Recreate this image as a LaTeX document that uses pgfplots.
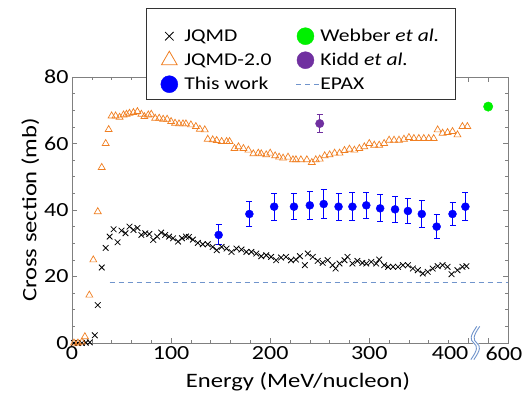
\documentclass[border=0pt]{standalone}
\usepackage{pgfplots}
\pgfplotsset{compat=1.18}
\usepackage{fontspec}
\setmainfont{Carlito}[FakeStretch=1.2]

\definecolor{jorange}{HTML}{F07F22}
\definecolor{epax}{HTML}{7094CC}
\definecolor{kidd}{HTML}{7030A0}
\definecolor{webber}{HTML}{00F000}
\definecolor{frame}{HTML}{808080}
\newcommand\lf{\fontsize{18}{21}\selectfont}

\begin{document}
\begin{tikzpicture}
\begin{axis}[
  scale only axis, width=436pt, height=266pt,
  xmin=0, xmax=440, ymin=0, ymax=80,
  clip=false,
  axis line style={frame, line width=0.8pt},
  tick style={frame, line width=0.6pt},
  tick align=inside,
  major tick length=5pt, minor tick length=3pt,
  xtick={0,100,200,300,400,420},
  xticklabels={0,100,200,300,{\llap{400}},{\hspace{-5pt}\rlap{600}}},
  minor xtick={20,40,60,80,120,140,160,180,220,240,260,280,320,340,360,380},
  ytick={0,20,40,60,80},
  minor y tick num=3,
  /pgf/number format/assume math mode=true,
  tick label style={font=\fontsize{20}{24}\selectfont, black},
  label style={font=\fontsize{20.5}{24}\selectfont},
  xlabel={Energy (MeV/nucleon)},
  ylabel={Cross section (mb)},
  xlabel style={yshift=-5pt, xshift=8pt},
  ylabel style={yshift=-2pt},
  legend columns=2,
  legend style={at={(rel axis cs:0.17,1.2143)}, anchor=north west,
    draw=none, fill=none,
    font=\lf,
    inner xsep=10pt, inner ysep=7pt,
    row sep=6pt,
    /tikz/every even column/.append style={column sep=19pt}},
  legend cell align=left,
  legend image code/.code={\path[draw=none, fill=none] (0pt,-1pt) rectangle (26pt,1pt); \draw[#1] plot coordinates {(13pt,0pt)};},
]

% legend frame (covers the top axis line, as in the original)
\draw[black!80, line width=0.8pt, fill=white] (rel axis cs:0.1697,1.2594) rectangle (rel axis cs:0.8784,0.9173);

% JQMD
\addplot[only marks, mark=x, mark size=4pt, black, line width=0.8pt, forget plot] coordinates {
(2,0) (6,0) (10,0) (14,0.1) (18,0.2) (23,2.3) (26,11.4) (30,22.7) (34,28.6) (38,32.0)
(42,34.2) (46,30.3) (50,33.8) (54,33.0) (58,35.0) (62,34.0) (66,34.6) (70,32.5) (74,33.0)
(78,32.8) (82,31.0) (86,32.0) (90,33.2) (94,32.5) (98,32.0) (102,31.5) (107,30.5)
(111,31.5) (115,32.0) (118,31.9) (122,31.1) (127,30.1) (132,29.7) (137,29.7) (142,28.9)
(146,27.9) (151,28.9) (156,28.4) (161,27.4) (166,28.4) (171,28.1) (176,27.4) (181,27.4)
(186,26.9) (191,26.1) (196,26.4) (201,25.9) (206,24.9) (211,25.7) (216,25.9) (221,24.9)
(226,25.1) (230,26.1) (235,23.4) (238,26.9) (243,25.9) (248,24.7) (253,24.1) (258,24.9)
(263,23.4) (266,22.4) (270,23.9) (275,24.9) (278,25.9) (283,23.9) (288,24.7) (293,24.1)
(297,23.9) (302,24.4) (307,23.9) (310,25.1) (315,23.4) (319,22.9) (324,22.9) (329,22.9)
(334,23.4) (339,23.4) (344,22.4) (349,21.9) (354,20.9) (359,21.4) (364,22.4) (369,23.1)
(374,23.4) (379,22.9) (383,20.7) (389,21.9) (394,22.9) (398,23.1)
};

% JQMD-2.0
\addplot[only marks, mark=triangle, mark size=4pt, jorange, line width=0.7pt, forget plot] coordinates {
(2,0) (6,0) (10,0.3) (13,1.9) (17.5,14.4) (21.5,25) (26,39.5) (30,52.8) (34,60) (37,64.2)
(40,68.3) (44,68.3) (48,67.9) (52,68.6) (55,68.8) (58,69.1) (62,69.3) (66,69.6) (70,68.8)
(73,68.1) (77,68.6) (80,68.8) (84,67.6) (88,67.6) (92,67.3) (96,67.3) (100,66.6) (104,66.1)
(108,65.9) (112,65.9) (115,65.9) (120,65.6) (125,65.1) (129,64.3) (134,64.1) (137,61.3)
(142,61.1) (146,60.9) (151,60.6) (156,60.6) (159,60.6) (164,58.5) (168,59.0) (173,58.5)
(178,58.0) (183,56.9) (188,57.1) (191,56.9) (196,56.6) (200,57.1) (205,56.3) (209,55.9)
(213,55.6) (218,55.9) (223,55.1) (226,55.1) (231,55.1) (237,55.1) (242,54.3) (246,55.1)
(250,55.3) (255,56.3) (260,56.6) (265,57.1) (270,57.1) (275,57.9) (280,58.3) (285,58.0)
(290,58.5) (295,59.0) (300,60.0) (305,59.5) (310,59.5) (315,60.0) (320,61.0) (325,61.0)
(330,61.0) (335,61.3) (340,61.8) (345,61.5) (350,61.5) (355,61.5) (360,61.5) (365,61.5)
(369,64.1) (374,63.1) (379,63.3) (384,63.6) (389,62.6) (394,65.1) (399,65.1)
};

% EPAX
\addplot[epax, line width=1pt, dash pattern=on 5pt off 4pt, forget plot] coordinates {(38,18.1) (440,18.1)};

% This work
\addplot[only marks, mark=*, mark size=4pt, blue, forget plot,
  error bars/.cd, y dir=both, y explicit,
  error bar style={line width=1pt, blue},
  error mark options={rotate=90, mark size=3pt, line width=1pt, blue}]
  table[x=E, y=s, y error=e] {
E s e
148 32.5 3.0
179 38.8 3.7
204 41.0 4.1
224 41.0 4.0
240 41.4 4.3
254 41.8 4.3
269 41.0 4.1
283 41.0 4.2
297 41.4 4.0
311 40.5 4.1
326 40.2 4.0
339 39.7 3.9
353 38.8 4.0
368 35.0 3.5
384 38.8 3.6
397 41.0 4.2
};

% Kidd et al.
\addplot[only marks, mark=*, mark size=4.2pt, kidd, forget plot,
  error bars/.cd, y dir=both, y explicit,
  error bar style={line width=1pt, kidd},
  error mark options={rotate=90, mark size=3pt, line width=1pt, kidd}]
  table[x=E, y=s, y error=e] {
E s e
250 66.0 2.8
};

% Webber et al. (600 MeV/nucleon, placed after the axis break)
\addplot[only marks, mark=*, mark size=4.7pt, webber, forget plot] coordinates {(420,71.1)};

% legend
\addlegendimage{only marks, mark=x, mark size=6pt, black, line width=0.8pt}
\addlegendentry{\lf JQMD}
\addlegendimage{only marks, mark=*, mark size=8.5pt, webber}
\addlegendentry{\lf Webber \textit{et al.}}
\addlegendimage{only marks, mark=triangle, mark size=9pt, jorange, line width=0.8pt}
\addlegendentry{\lf JQMD-2.0}
\addlegendimage{only marks, mark=*, mark size=8.5pt, kidd}
\addlegendentry{\lf Kidd \textit{et al.}}
\addlegendimage{only marks, mark=*, mark size=8.5pt, blue}
\addlegendentry{\lf This work}
\addlegendimage{legend image code/.code={\path[draw=none, fill=none] (0pt,-1pt) rectangle (26pt,1pt);
  \begin{pgfinterruptboundingbox}\draw[epax, line width=1pt, dash pattern=on 5pt off 4pt] (4pt,0pt) -- (32pt,0pt);\end{pgfinterruptboundingbox}}}
\addlegendentry{\lf EPAX}

% axis break symbol
\draw[white, line width=4pt] (axis cs:410,5) .. controls (axis cs:403,2) and (axis cs:403,1) .. (axis cs:407,0) .. controls (axis cs:411,-1) and (axis cs:411,-2) .. (axis cs:404,-5);
\draw[epax, line width=0.9pt] (axis cs:408.5,5) .. controls (axis cs:401.5,2) and (axis cs:401.5,1) .. (axis cs:405.5,0) .. controls (axis cs:409.5,-1) and (axis cs:409.5,-2) .. (axis cs:402.5,-5);
\draw[epax, line width=0.9pt] (axis cs:411.5,5) .. controls (axis cs:404.5,2) and (axis cs:404.5,1) .. (axis cs:408.5,0) .. controls (axis cs:412.5,-1) and (axis cs:412.5,-2) .. (axis cs:405.5,-5);
\end{axis}
\pgfresetboundingbox
\path[use as bounding box] ([shift={(-72pt,-54pt)}]current axis.south west) rectangle ([shift={(14pt,77pt)}]current axis.north east);
\end{tikzpicture}
\end{document}
